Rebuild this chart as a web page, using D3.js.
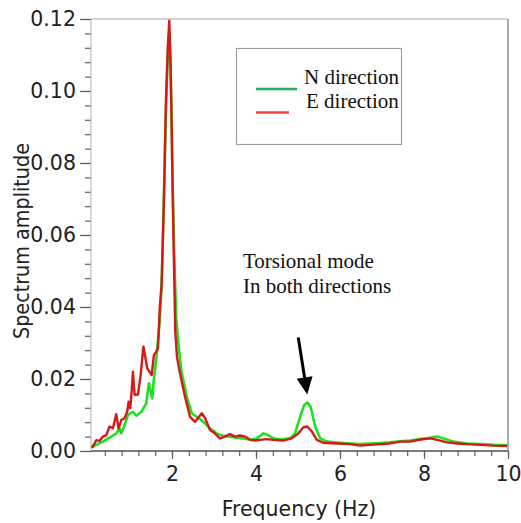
<!DOCTYPE html>
<html>
<head>
<meta charset="utf-8">
<script src="https://cdn.jsdelivr.net/npm/d3@7"></script>
<style>
  html, body { margin: 0; padding: 0; background: #fff; }
  svg { display: block; }
</style>
</head>
<body>
<svg id="chart" width="521" height="523"></svg>
<script>
// ---------- data ----------
const freqN = [0.09,0.196,0.355,0.553,0.673,0.753,0.792,0.872,0.951,1.07,1.15,1.27,1.387,1.45,1.53,1.57,1.626,1.706,1.75,1.78,1.81,1.85,1.90,1.935,1.965,1.99,2.02,2.06,2.10,2.15,2.22,2.35,2.47,2.59,2.75,2.905,3.06,3.22,3.38,3.54,3.7,3.86,4.02,4.18,4.29,4.41,4.57,4.81,4.93,5.05,5.15,5.22,5.3,5.41,5.53,5.69,6.0,6.24,6.48,6.72,6.96,7.19,7.43,7.67,7.91,8.15,8.31,8.47,8.7,9.02,9.34,9.66,9.98];
const ampN  = [0.0010,0.0017,0.0026,0.0040,0.0049,0.0063,0.0049,0.0072,0.0100,0.0109,0.0098,0.0109,0.0132,0.0188,0.0146,0.0202,0.0257,0.0359,0.0450,0.0580,0.0720,0.0920,0.1100,0.1160,0.1080,0.0920,0.0720,0.0520,0.0370,0.0300,0.0225,0.0151,0.0105,0.0095,0.0081,0.0063,0.0049,0.0042,0.0040,0.0037,0.0035,0.0031,0.0035,0.0049,0.0044,0.0035,0.0032,0.0035,0.0049,0.0095,0.0128,0.0135,0.0123,0.0068,0.0035,0.0026,0.0023,0.0021,0.0019,0.0021,0.0022,0.0024,0.0027,0.0029,0.0033,0.0037,0.0040,0.0035,0.0026,0.0021,0.0019,0.0017,0.0016];

const freqE = [0.09,0.16,0.2,0.275,0.355,0.435,0.514,0.593,0.673,0.728,0.792,0.872,0.934,0.967,1.006,1.039,1.07,1.11,1.19,1.253,1.32,1.41,1.515,1.57,1.626,1.666,1.71,1.754,1.79,1.82,1.856,1.90,1.935,1.96,1.982,2.01,2.04,2.078,2.12,2.19,2.31,2.43,2.55,2.71,2.79,2.905,3.02,3.14,3.26,3.38,3.5,3.62,3.74,3.86,3.98,4.1,4.26,4.41,4.65,4.85,5.01,5.13,5.22,5.33,5.45,5.6,5.92,6.24,6.48,6.72,6.96,7.19,7.43,7.67,7.91,8.15,8.31,8.55,8.78,9.02,9.34,9.66,9.98];
const ampE  = [0.0009,0.0022,0.0030,0.0028,0.0040,0.0044,0.0068,0.0063,0.0102,0.0063,0.0086,0.0091,0.0109,0.0137,0.0119,0.0165,0.0220,0.0156,0.0157,0.0211,0.0290,0.0230,0.0211,0.0267,0.0276,0.0285,0.0400,0.0466,0.0620,0.0760,0.0975,0.1120,0.1195,0.1100,0.0975,0.0760,0.0560,0.0331,0.0260,0.0216,0.0151,0.0095,0.0081,0.0105,0.0091,0.0058,0.0049,0.0035,0.0040,0.0047,0.0040,0.0043,0.0040,0.0031,0.0029,0.0031,0.0033,0.0031,0.0029,0.0035,0.0049,0.0066,0.0068,0.0054,0.0031,0.0023,0.0021,0.0019,0.0015,0.0017,0.0019,0.0021,0.0026,0.0026,0.0032,0.0035,0.0031,0.0024,0.0021,0.0019,0.0017,0.0015,0.0014];

const xMajorTicks = [2, 4, 6, 8, 10];
const xMinorTicks = d3.range(1, 26).map(i => +(i * 0.4).toFixed(1));
const yMajorTicks = [0, 0.02, 0.04, 0.06, 0.08, 0.10, 0.12];
const yMinorTicks = d3.range(0, 31).map(i => +(i * 0.004).toFixed(3));
const xMin = 0.07, xMax = 10, yMax = 0.12;

const seriesNames = ["N direction", "E direction"];
const annotationLines = ["Torsional mode", "In both directions"];
const annotationPeak = { f: 5.22, a: 0.0135 };

// ---------- drawing ----------
const svg = d3.select("#chart");
const x = d3.scaleLinear().domain([0, 10]).range([88, 508]);
const y = d3.scaleLinear().domain([0, yMax]).range([451, 19]);
const pLeft = x(xMin), pRight = x(xMax), pTop = y(yMax), pBottom = y(0);

const axisFont = "'DejaVu Sans', Verdana, sans-serif";
const serif = "'Liberation Serif', 'Times New Roman', serif";
const tickColor = "#606060";

// frame (top & right)
svg.append("line").attr("x1", pLeft).attr("x2", pRight).attr("y1", pTop).attr("y2", pTop)
  .attr("stroke", "#a8a8a8").attr("stroke-width", 1.2);
svg.append("line").attr("x1", pRight).attr("x2", pRight).attr("y1", pTop).attr("y2", pBottom)
  .attr("stroke", "#909090").attr("stroke-width", 1.5);

// x axis
const gxMinor = svg.append("g").attr("transform", `translate(0,${pBottom})`)
  .call(d3.axisBottom(x).tickValues(xMinorTicks).tickSize(5).tickFormat(""));
const gxMajor = svg.append("g").attr("transform", `translate(0,${pBottom})`)
  .call(d3.axisBottom(x).tickValues(xMajorTicks).tickSize(8).tickPadding(7).tickFormat(d3.format("d")));
[gxMinor, gxMajor].forEach(g => {
  g.select(".domain").remove();
  g.selectAll(".tick line").attr("stroke", tickColor).attr("stroke-width", 1.2);
});
gxMajor.selectAll(".tick text").attr("font-family", axisFont).attr("font-size", 20.5).attr("fill", "#222");
svg.append("line").attr("x1", pLeft).attr("x2", pRight).attr("y1", pBottom).attr("y2", pBottom)
  .attr("stroke", "#505050").attr("stroke-width", 1.3);

// y axis
const gyMinor = svg.append("g").attr("transform", `translate(${pLeft},0)`)
  .call(d3.axisLeft(y).tickValues(yMinorTicks).tickSize(6).tickFormat(""));
const gyMajor = svg.append("g").attr("transform", `translate(${pLeft},0)`)
  .call(d3.axisLeft(y).tickValues(yMajorTicks).tickSize(11).tickPadding(4).tickFormat(d3.format(".2f")));
[gyMinor, gyMajor].forEach(g => {
  g.select(".domain").remove();
  g.selectAll(".tick line").attr("stroke", tickColor).attr("stroke-width", 1.2);
});
gyMajor.selectAll(".tick text").attr("font-family", axisFont).attr("font-size", 20.5).attr("fill", "#222");
svg.append("line").attr("x1", pLeft).attr("x2", pLeft).attr("y1", pTop).attr("y2", pBottom)
  .attr("stroke", "#b0b0b0").attr("stroke-width", 1);

// axis titles
svg.append("text").attr("x", (88 + 508) / 2 + 1).attr("y", 516)
  .attr("text-anchor", "middle").attr("font-family", axisFont).attr("font-size", 20.5)
  .attr("fill", "#222").text("Frequency (Hz)");
svg.append("text").attr("transform", "translate(29,241) rotate(-90)")
  .attr("text-anchor", "middle").attr("font-family", axisFont).attr("font-size", 20.5)
  .attr("textLength", 196).attr("lengthAdjust", "spacingAndGlyphs")
  .attr("fill", "#222").text("Spectrum amplitude");

// series
const line = d3.line().x(d => x(d[0])).y(d => y(d[1]));
const dataN = freqN.map((f, i) => [f, ampN[i]]);
const dataE = freqE.map((f, i) => [f, ampE[i]]);
svg.append("path").datum(dataN).attr("d", line).attr("fill", "none")
  .attr("stroke", "#1fe01f").attr("stroke-width", 2.6).attr("stroke-linejoin", "round");
svg.append("path").datum(dataE).attr("d", line).attr("fill", "none")
  .attr("stroke", "#d81818").attr("stroke-width", 2.4).attr("stroke-linejoin", "round");

// legend
const lg = svg.append("g");
lg.append("rect").attr("x", 236.5).attr("y", 48.5).attr("width", 165).attr("height", 96)
  .attr("fill", "#fff").attr("stroke", "#a0a0a0").attr("stroke-width", 1.2);
const legendColors = ["#22b35a", "#f04444"];
const legendLen = [41, 33];
seriesNames.forEach((name, i) => {
  const yy = 89 + i * 23.5;
  lg.append("line").attr("x1", 256).attr("x2", 256 + legendLen[i]).attr("y1", yy).attr("y2", yy)
    .attr("stroke", legendColors[i]).attr("stroke-width", 2.6);
  lg.append("text").attr("x", 304 + i * 2).attr("y", 84 + i * 24)
    .attr("font-family", serif).attr("font-size", 21).attr("fill", "#111").text(name);
});

// annotation
annotationLines.forEach((t, i) => {
  svg.append("text").attr("x", 243).attr("y", 268 + i * 25)
    .attr("font-family", serif).attr("font-size", 21).attr("fill", "#111").text(t);
});
const tipX = x(annotationPeak.f), tipY = y(annotationPeak.a) - 8;
const startX = tipX - 9, startY = tipY - 57;
const dx = tipX - startX, dy = tipY - startY, L = Math.hypot(dx, dy);
const ux = dx / L, uy = dy / L, px = -uy, py = ux;
const headLen = 17, headW = 8;
const bx = tipX - ux * headLen, by = tipY - uy * headLen;
svg.append("line").attr("x1", startX).attr("y1", startY).attr("x2", bx + ux * 2).attr("y2", by + uy * 2)
  .attr("stroke", "#000").attr("stroke-width", 3);
svg.append("path")
  .attr("d", `M${tipX},${tipY}L${bx + px * headW},${by + py * headW}L${bx - px * headW},${by - py * headW}Z`)
  .attr("fill", "#000");
</script>
</body>
</html>
